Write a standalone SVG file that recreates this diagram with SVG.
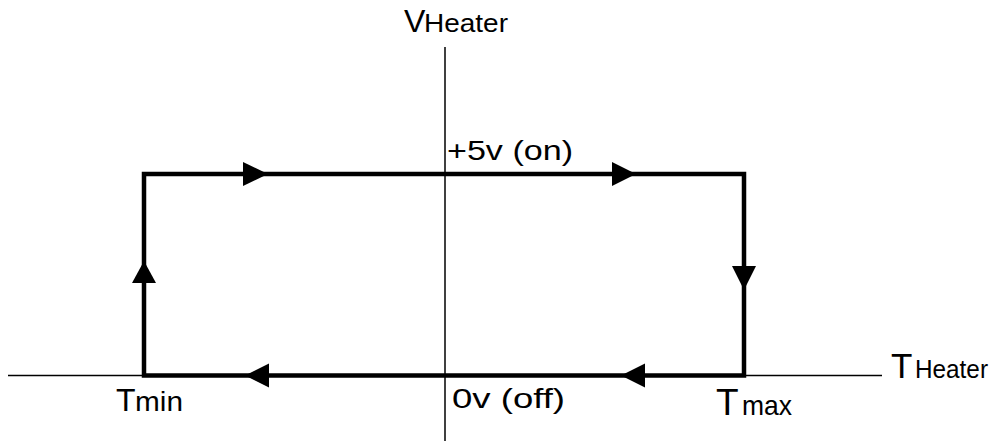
<svg xmlns="http://www.w3.org/2000/svg" width="999" height="445" viewBox="0 0 999 445">
  <style>
    .axis { stroke: #000; stroke-width: 1.5; fill: none; }
    .loop { stroke: #000; stroke-width: 4.5; fill: none; stroke-linejoin: miter; }
    .head { fill: #000; }
    text { font-family: "Liberation Sans", Arial, sans-serif; fill: #000; }
    .big { font-size: 32px; }
    .sub { font-size: 25px; }
    .lbl { font-size: 28px; }
  </style>
  <rect width="999" height="445" fill="#fff"/>

  <!-- axes -->
  <g id="axes">
    <line class="axis" x1="8" y1="375.5" x2="882" y2="375.5"/>
    <line class="axis" x1="445" y1="47" x2="445" y2="441"/>
  </g>

  <!-- hysteresis loop with direction arrows -->
  <g id="connectors">
    <path class="loop" d="M144,375.5 V174 H744 V375.5 Z"/>
    <polygon class="head" points="268,174 243,162 243,186"/>
    <polygon class="head" points="636,174 612,162 612,186"/>
    <polygon class="head" points="744,290 732,266 756,266"/>
    <polygon class="head" points="621,375.5 645,363.5 645,387.5"/>
    <polygon class="head" points="245,375.5 269,363.5 269,387.5"/>
    <polygon class="head" points="144,261 132,283 156,283"/>
  </g>

  <!-- axis labels -->
  <g id="label-vheater">
    <text class="big" x="404" y="32">V</text>
    <text class="sub" x="424" y="32" textLength="84" lengthAdjust="spacingAndGlyphs">Heater</text>
  </g>
  <g id="label-theater">
    <text x="891" y="378" font-size="35">T</text>
    <text class="sub" x="915" y="378" textLength="73" lengthAdjust="spacingAndGlyphs">Heater</text>
  </g>

  <!-- level labels -->
  <g id="label-on">
    <text class="lbl" x="447" y="160" textLength="126" lengthAdjust="spacingAndGlyphs">+5v (on)</text>
  </g>
  <g id="label-off">
    <text class="lbl" x="452" y="408" textLength="113" lengthAdjust="spacingAndGlyphs">0v (off)</text>
  </g>

  <!-- threshold labels -->
  <g id="label-tmin">
    <text class="big" x="116" y="411">T</text>
    <text class="lbl" x="135" y="411" textLength="48" lengthAdjust="spacingAndGlyphs">min</text>
  </g>
  <g id="label-tmax">
    <text x="716" y="415" font-size="37">T</text>
    <text class="lbl" x="742" y="415" textLength="50" lengthAdjust="spacingAndGlyphs">max</text>
  </g>
</svg>
